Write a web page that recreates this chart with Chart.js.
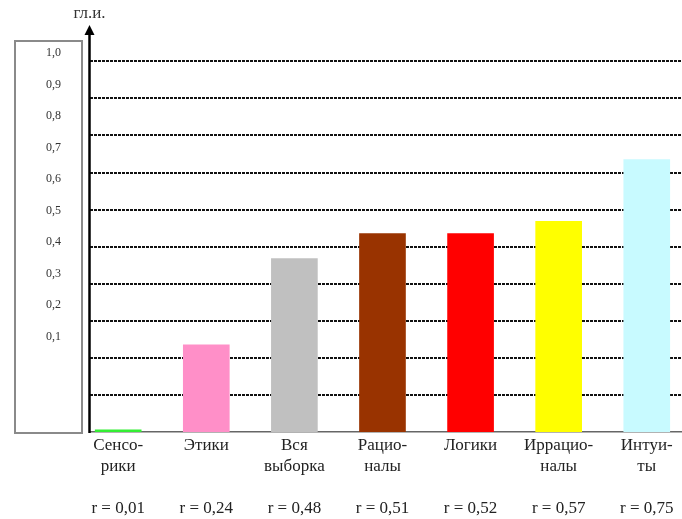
<!DOCTYPE html>
<html>
<head>
<meta charset="utf-8">
<script src="https://cdn.jsdelivr.net/npm/chart.js@4"></script>
<style>
  html, body { margin: 0; padding: 0; background: #fff; }
  #wrap { width: 682px; height: 519px; position: relative; }
</style>
</head>
<body>
<div id="wrap"><canvas id="chart"></canvas></div>
<script>
// data
const categories = [['Сенсо-', 'рики'], ['Этики'], ['Вся', 'выборка'], ['Рацио-', 'налы'], ['Логики'], ['Иррацио-', 'налы'], ['Интуи-', 'ты']];
const rLabels = ['r = 0,01', 'r = 0,24', 'r = 0,48', 'r = 0,51', 'r = 0,52', 'r = 0,57', 'r = 0,75'];
const values = [0.006, 0.235, 0.468, 0.535, 0.535, 0.568, 0.735];
const gridValues = [0.1, 0.2, 0.3, 0.4, 0.5, 0.6, 0.7, 0.8, 0.9, 1.0];
const yTickValues = [0.1, 0.2, 0.3, 0.4, 0.5, 0.6, 0.7, 0.8, 0.9, 1.0];
const yTickLabels = ['0,1', '0,2', '0,3', '0,4', '0,5', '0,6', '0,7', '0,8', '0,9', '1,0'];
const yAxisTitle = 'гл.и.';

const barColors = ['#33ee33', '#ff8fc8', '#c0c0c0', '#993300', '#ff0000', '#ffff00', '#c8faff'];
const serif = '"Liberation Serif", "Times New Roman", serif';

// label under each bar: category lines, a blank line, then r
const xLabels = categories.map((c, i) => {
    const lines = c.slice();
    while (lines.length < 2) lines.push('');
    lines.push('');
    lines.push(rLabels[i]);
    return lines;
});

const frame = {
    id: 'frame',
    beforeDraw(chart) {
        const ctx = chart.ctx;
        ctx.save();
        ctx.strokeStyle = '#8a8a8a';
        ctx.lineWidth = 2;
        ctx.strokeRect(15, 41, 67, 392);
        ctx.restore();
    },
    afterDatasetsDraw(chart) {
        const ctx = chart.ctx;
        const area = chart.chartArea;
        const x = area.left - 0.5;
        ctx.save();
        ctx.strokeStyle = '#000';
        ctx.fillStyle = '#000';
        ctx.lineWidth = 2.5;
        ctx.beginPath();
        ctx.moveTo(x, area.bottom + 1);
        ctx.lineTo(x, 32);
        ctx.stroke();
        ctx.beginPath();
        ctx.moveTo(x, 25);
        ctx.lineTo(x - 5, 35);
        ctx.lineTo(x + 5, 35);
        ctx.closePath();
        ctx.fill();
        ctx.font = '17px ' + serif;
        ctx.fillStyle = '#333';
        ctx.textAlign = 'center';
        ctx.textBaseline = 'middle';
        ctx.fillText(yAxisTitle, x, 14);
        ctx.restore();
    }
};

new Chart(document.getElementById('chart'), {
    type: 'bar',
    data: {
        datasets: [{
            data: values.map((v, i) => ({ x: i, y: v })),
            backgroundColor: barColors,
            borderWidth: 0,
            barThickness: 46,
            yAxisID: 'y'
        }]
    },
    options: {
        responsive: true,
        maintainAspectRatio: false,
        devicePixelRatio: 1,
        animation: false,
        layout: { padding: { top: 40, right: 0, bottom: 0, left: 0 } },
        plugins: {
            legend: { display: false },
            tooltip: { enabled: false }
        },
        scales: {
            x: {
                type: 'linear',
                offset: false,
                min: -0.32,
                max: 6.4,
                afterBuildTicks: (scale) => { scale.ticks = categories.map((_, i) => ({ value: i })); },
                afterFit: (scale) => { scale.height = 87; },
                grid: { display: false, drawTicks: false },
                border: { display: true, color: '#666', width: 1.5 },
                ticks: {
                    autoSkip: false,
                    maxRotation: 0,
                    padding: 3,
                    color: '#222',
                    font: { family: serif, size: 17, lineHeight: 1.24 },
                    callback: (v) => xLabels[v]
                }
            },
            y: {
                position: 'left',
                min: 0,
                max: 392 / 370.7,
                afterBuildTicks: (scale) => { scale.ticks = gridValues.map(v => ({ value: v })); },
                afterFit: (scale) => { scale.width = 0; },
                grid: { color: '#111', lineWidth: 2, drawTicks: false },
                border: { display: false, dash: [3, 1] },
                ticks: { display: false }
            },
            y2: {
                position: 'left',
                min: -0.2026,
                max: 1.0422,
                afterBuildTicks: (scale) => { scale.ticks = yTickValues.map(v => ({ value: v })); },
                afterFit: (scale) => { scale.width = 90; },
                grid: { display: false, drawTicks: false },
                border: { display: false },
                ticks: {
                    padding: 29,
                    color: '#333',
                    font: { family: serif, size: 12 },
                    callback: (v) => yTickLabels[yTickValues.indexOf(v)]
                }
            }
        }
    },
    plugins: [frame]
});
</script>
</body>
</html>
